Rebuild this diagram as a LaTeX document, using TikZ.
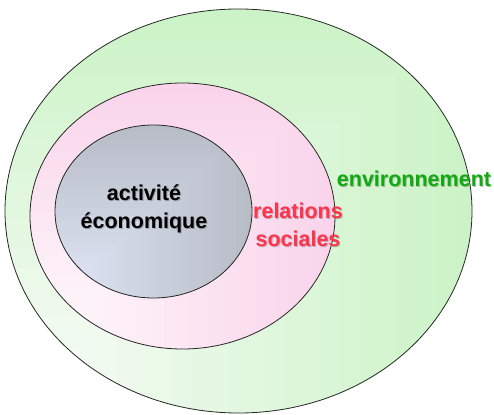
\documentclass[tikz,border=0pt]{standalone}
\usepackage{fontspec}
\setmainfont{Liberation Sans}
\definecolor{greenfull}{RGB}{204,243,199}
\definecolor{greenlight}{RGB}{251,252,251}
\definecolor{pinkfull}{RGB}{249,212,234}
\definecolor{pinklight}{RGB}{255,251,253}
\definecolor{grayfull}{RGB}{184,188,199}
\definecolor{graylight}{RGB}{226,232,249}
\definecolor{labelred}{RGB}{255,51,76}
\definecolor{labelgreen}{RGB}{17,170,17}
\definecolor{edgecol}{RGB}{40,40,40}
\tikzset{
  ring/.style={draw=edgecol, line width=0.8pt},
  lbl/.style={font=\bfseries\fontsize{21.5}{28}\selectfont, align=center, inner sep=0pt},
  shadowlbl/.style={lbl, text=black, text opacity=0.22},
}
% #1 left, #2 bottom, #3 width, #4 height, #5 full colour, #6 light colour
\newcommand\cornerfill[6]{%
  \foreach \k [evaluate=\k as \f using int(\k*4)] in {25,24,...,1}{%
    \fill[#5!\f!#6] (#1,#2) rectangle ++({\k/25*#3},{\k/25*#4});
  }%
}
\begin{document}
\begin{tikzpicture}[x=1pt,y=1pt]
\useasboundingbox (0,0) rectangle (494,414);
% outer ellipse: environnement
\begin{scope}
  \clip (238.5,203) ellipse [x radius=233.5, y radius=202];
  \cornerfill{5}{1}{467}{404}{greenfull}{greenlight}
\end{scope}
\draw[ring] (238.5,203) ellipse [x radius=233.5, y radius=202];
% middle ellipse: relations sociales
\begin{scope}
  \clip (182.5,198) ellipse [x radius=152.5, y radius=133];
  \cornerfill{30}{65}{305}{266}{pinkfull}{pinklight}
\end{scope}
\draw[ring] (182.5,198) ellipse [x radius=152.5, y radius=133];
% inner ellipse: activite economique
\begin{scope}
  \clip (153.5,202.5) ellipse [x radius=98.5, y radius=86.5];
  \cornerfill{55}{116}{197}{173}{grayfull}{graylight}
\end{scope}
\draw[ring] (153.5,202.5) ellipse [x radius=98.5, y radius=86.5];
% labels with soft shadows
\node[shadowlbl] (actS) at (145,204) {activité\\économique};
\node[lbl, text=black] (act) at (144,205) {activité\\économique};
\node[shadowlbl] (relS) at (299,188) {relations\\sociales};
\node[lbl, text=labelred] (rel) at (298,189) {relations\\sociales};
\node[shadowlbl] (envS) at (415,234) {environnement};
\node[lbl, text=labelgreen] (env) at (414,235) {environnement};
\end{tikzpicture}
\end{document}
